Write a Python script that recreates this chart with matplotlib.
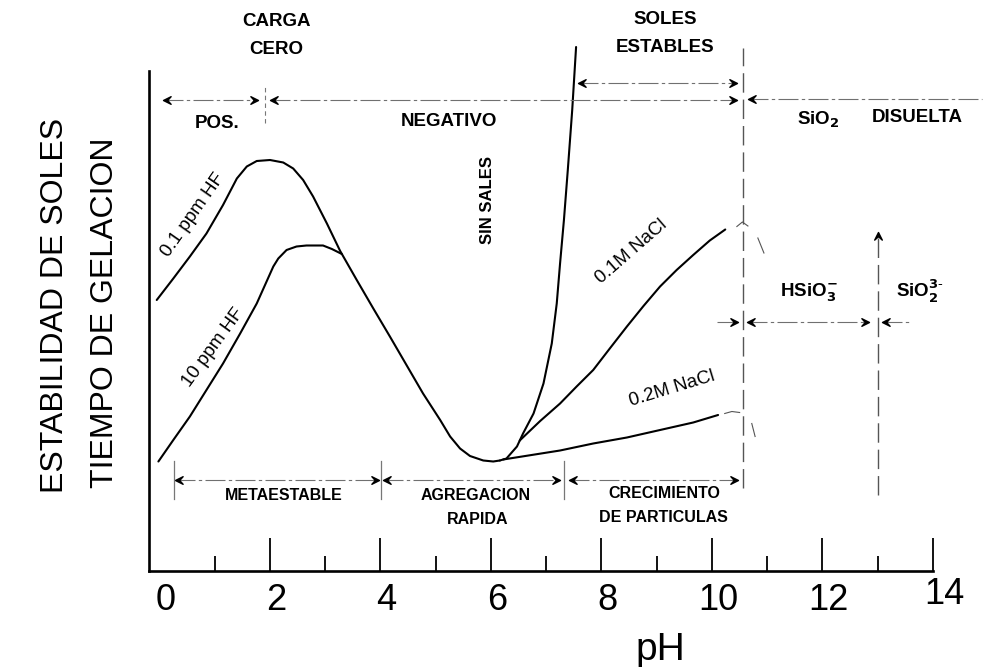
import numpy as np
import matplotlib.pyplot as plt
from matplotlib.path import Path

plt.rcParams['font.family'] = ['Liberation Sans', 'DejaVu Sans']

# 0.1 ppm HF curve, down through the minimum (pH ~6)
ph_hf01 = [-0.05, 0.25, 0.55, 0.85, 1.15, 1.40, 1.58, 1.76, 2.00, 2.24, 2.42, 2.60, 2.78, 3.03, 3.27,
           3.57, 3.87, 4.17, 4.47, 4.77, 5.08, 5.26, 5.44, 5.62, 5.86, 6.04, 6.16]
st_hf01 = [54.2, 58.5, 62.9, 67.5, 73.2, 78.5, 80.9, 82.0, 82.2, 81.7, 80.5, 78.2, 74.9, 69.5, 64.0,
           58.2, 52.5, 46.9, 41.2, 35.5, 30.2, 26.9, 24.5, 23.0, 22.1, 21.9, 22.1]

# 10 ppm HF curve, joins the one above near pH 3.3
ph_hf10 = [-0.02, 0.25, 0.55, 0.85, 1.15, 1.46, 1.76, 2.06, 2.15, 2.30, 2.48, 2.66, 2.96, 3.12, 3.30]
st_hf10 = [21.9, 26.2, 30.9, 36.2, 41.5, 47.5, 53.5, 60.9, 62.5, 64.2, 64.9, 65.1, 65.1, 64.4, 63.4]

# no salt branch, steep rise after the minimum
ph_sin = [6.16, 6.28, 6.47, 6.58, 6.77, 6.95, 7.10, 7.19, 7.25, 7.32, 7.39, 7.47, 7.54]
st_sin = [22.1, 22.5, 24.9, 27.5, 31.5, 37.5, 45.5, 53.5, 61.5, 70.2, 80.2, 92.2, 104.8]

# NaCl branches
ph_nacl01 = [6.52, 6.89, 7.25, 7.55, 7.85, 8.15, 8.46, 8.76, 9.06, 9.36, 9.66, 9.96, 10.24]
st_nacl01 = [26.1, 30.0, 33.5, 36.9, 40.2, 44.5, 48.9, 53.0, 56.9, 60.2, 63.2, 66.1, 68.3]
ph_nacl02 = [6.22, 7.25, 7.85, 8.46, 9.06, 9.66, 10.11]
st_nacl02 = [22.3, 24.1, 25.5, 26.7, 28.2, 29.7, 31.2]

# faint pencil marks past the end of the NaCl curves
marks = [
    ([10.45, 10.55, 10.65], [68.9, 69.8, 69.0]),
    ([10.83, 10.94], [66.6, 63.6]),
    ([10.23, 10.36, 10.50], [31.5, 31.9, 31.7]),
    ([10.72, 10.78], [29.5, 26.9]),
]

# region spans: (start, end, level, left head, right head)
spans = [
    (0.06, 1.78, 94.2, True, True),
    (2.00, 10.45, 94.3, True, True),
    (10.65, 14.88, 94.5, True, False),
    (7.57, 10.45, 97.6, True, True),
    (10.09, 10.47, 49.8, False, True),
    (10.63, 12.84, 49.8, True, True),
    (13.08, 13.58, 49.8, True, False),
    (0.28, 3.97, 18.2, True, True),
    (4.04, 7.25, 18.2, True, True),
    (7.41, 10.47, 18.2, True, True),
]
span_seps = [0.26, 4.01, 7.32]
ph_zero_charge = 1.91
ph_sol_limit = 10.56
ph_hsio3_limit = 13.0

major_ticks = [2, 4, 6, 8, 10, 12, 14]
minor_ticks = [1, 3, 5, 7, 9, 11, 13]
tick_labels = ['0', '2', '4', '6', '8', '10', '12', '14']
tick_pos = [0, 2, 4, 6, 8, 10, 12, 14]

fig = plt.figure(figsize=(9.84, 6.67), dpi=100)
ax = fig.add_axes([149 / 984, 96 / 667, 784 / 984, 500 / 667])
ax.set_xlim(-0.19, 14.0)
ax.set_ylim(0, 100)

for s in ['top', 'right']:
    ax.spines[s].set_visible(False)
for s in ['left', 'bottom']:
    ax.spines[s].set_linewidth(1.9)
ax.set_yticks([])
ax.set_xticks(major_ticks)
ax.set_xticks(minor_ticks, minor=True)
ax.tick_params(axis='x', which='major', direction='in', length=24, width=1.3, labelbottom=False)
ax.tick_params(axis='x', which='minor', direction='in', length=11, width=1.3)

for x, lab in zip(tick_pos, tick_labels):
    if lab == '14':
        ax.text(x + 0.2, -4.8, lab, fontsize=26, ha='center', va='center', clip_on=False)
    else:
        ax.text(x + 0.11, -5.8, lab, fontsize=26, ha='center', va='center', clip_on=False)

curve_kw = dict(color='black', lw=1.5, clip_on=False, solid_capstyle='round')
ax.plot(ph_hf01, st_hf01, **curve_kw)
ax.plot(ph_hf10, st_hf10, **curve_kw)
ax.plot(ph_sin, st_sin, **curve_kw)
ax.plot(ph_nacl01, st_nacl01, **curve_kw)
ax.plot(ph_nacl02, st_nacl02, **curve_kw)
for mx, my in marks:
    ax.plot(mx, my, color='#555555', lw=0.8)

# arrow heads
right_head = Path([(0, 0), (-2, 1), (-1.1, 0), (-2, -1), (0, 0)],
                  [Path.MOVETO, Path.LINETO, Path.LINETO, Path.LINETO, Path.CLOSEPOLY])
left_head = Path([(0, 0), (2, 1), (1.1, 0), (2, -1), (0, 0)],
                 [Path.MOVETO, Path.LINETO, Path.LINETO, Path.LINETO, Path.CLOSEPOLY])
up_head = Path([(0, 0), (1, -2), (0, -1.1), (-1, -2), (0, 0)],
               [Path.MOVETO, Path.LINETO, Path.LINETO, Path.LINETO, Path.CLOSEPOLY])

for x0, x1, y, lh, rh in spans:
    ax.plot([x0, x1], [y, y], color='#707070', lw=0.8, ls=(0, (18, 3, 3, 3)), clip_on=False)
    if lh:
        ax.plot(x0, y, marker=left_head, ms=11, color='black', clip_on=False)
    if rh:
        ax.plot(x1, y, marker=right_head, ms=11, color='black', clip_on=False)

for x in span_seps:
    ax.plot([x, x], [14.4, 22.0], color='#777777', lw=0.9)
ax.plot([ph_zero_charge] * 2, [89.6, 97.2], color='#777777', lw=0.8, ls=(0, (4, 3)), clip_on=False)

ax.plot([ph_sol_limit] * 2, [16.6, 104.6], color='#555555', lw=1.0, ls=(0, (14, 5)), clip_on=False)
ax.plot([ph_hsio3_limit] * 2, [15.2, 67.8], color='#555555', lw=1.0, ls=(0, (14, 5)))
ax.plot(ph_hsio3_limit, 67.8, marker=up_head, ms=11, color='black')

# region labels
top_kw = dict(fontsize=13.5, fontweight='bold', ha='center', va='center', clip_on=False)
ax.text(2.11, 109.8, 'CARGA', **top_kw)
ax.text(2.11, 104.4, 'CERO', **top_kw)
ax.text(9.15, 110.2, 'SOLES', **top_kw)
ax.text(9.15, 104.8, 'ESTABLES', **top_kw)
ax.text(1.04, 89.4, 'POS.', **top_kw)
ax.text(5.24, 90.0, 'NEGATIVO', **top_kw)
ax.text(11.92, 90.2, 'SiO$_\\mathbf{2}$', **top_kw)
ax.text(13.71, 90.6, 'DISUELTA', **top_kw)
ax.text(11.76, 55.6, 'HSiO$_\\mathbf{3}^{\\mathbf{-}}$', **top_kw)
ax.text(13.76, 56.0, 'SiO$_\\mathbf{2}^{\\mathbf{3}\\text{-}}$', **top_kw)
ax.text(5.94, 74.2, 'SIN SALES', rotation=90, fontsize=12, fontweight='bold',
        ha='center', va='center')

low_kw = dict(fontsize=11.5, fontweight='bold', ha='center', va='center')
ax.text(2.24, 15.2, 'METAESTABLE', **low_kw)
ax.text(5.73, 15.2, 'AGREGACION', **low_kw)
ax.text(5.75, 10.2, 'RAPIDA', **low_kw)
ax.text(9.13, 15.6, 'CRECIMIENTO', **low_kw)
ax.text(9.13, 10.6, 'DE PARTICULAS', **low_kw)

curve_lab = dict(fontsize=13.5, ha='center', va='center', rotation_mode='anchor')
ax.text(0.61, 71.2, '0.1 ppm HF', rotation=55, **curve_lab)
ax.text(0.97, 44.6, '10 ppm HF', rotation=54, **curve_lab)
ax.text(8.55, 63.8, '0.1M NaCl', rotation=41, **curve_lab)
ax.text(9.28, 36.4, '0.2M NaCl', rotation=17, **curve_lab)

fig.text(55 / 984, 1 - 305 / 667, 'ESTABILIDAD DE SOLES', rotation=90, fontsize=23,
         ha='center', va='center')
fig.text(105 / 984, 1 - 313 / 667, 'TIEMPO DE GELACION', rotation=90, fontsize=23,
         ha='center', va='center')
fig.text(660 / 984, 1 - 650 / 667, 'pH', fontsize=28, ha='center', va='center')

fig.savefig('out.png', dpi=100)
